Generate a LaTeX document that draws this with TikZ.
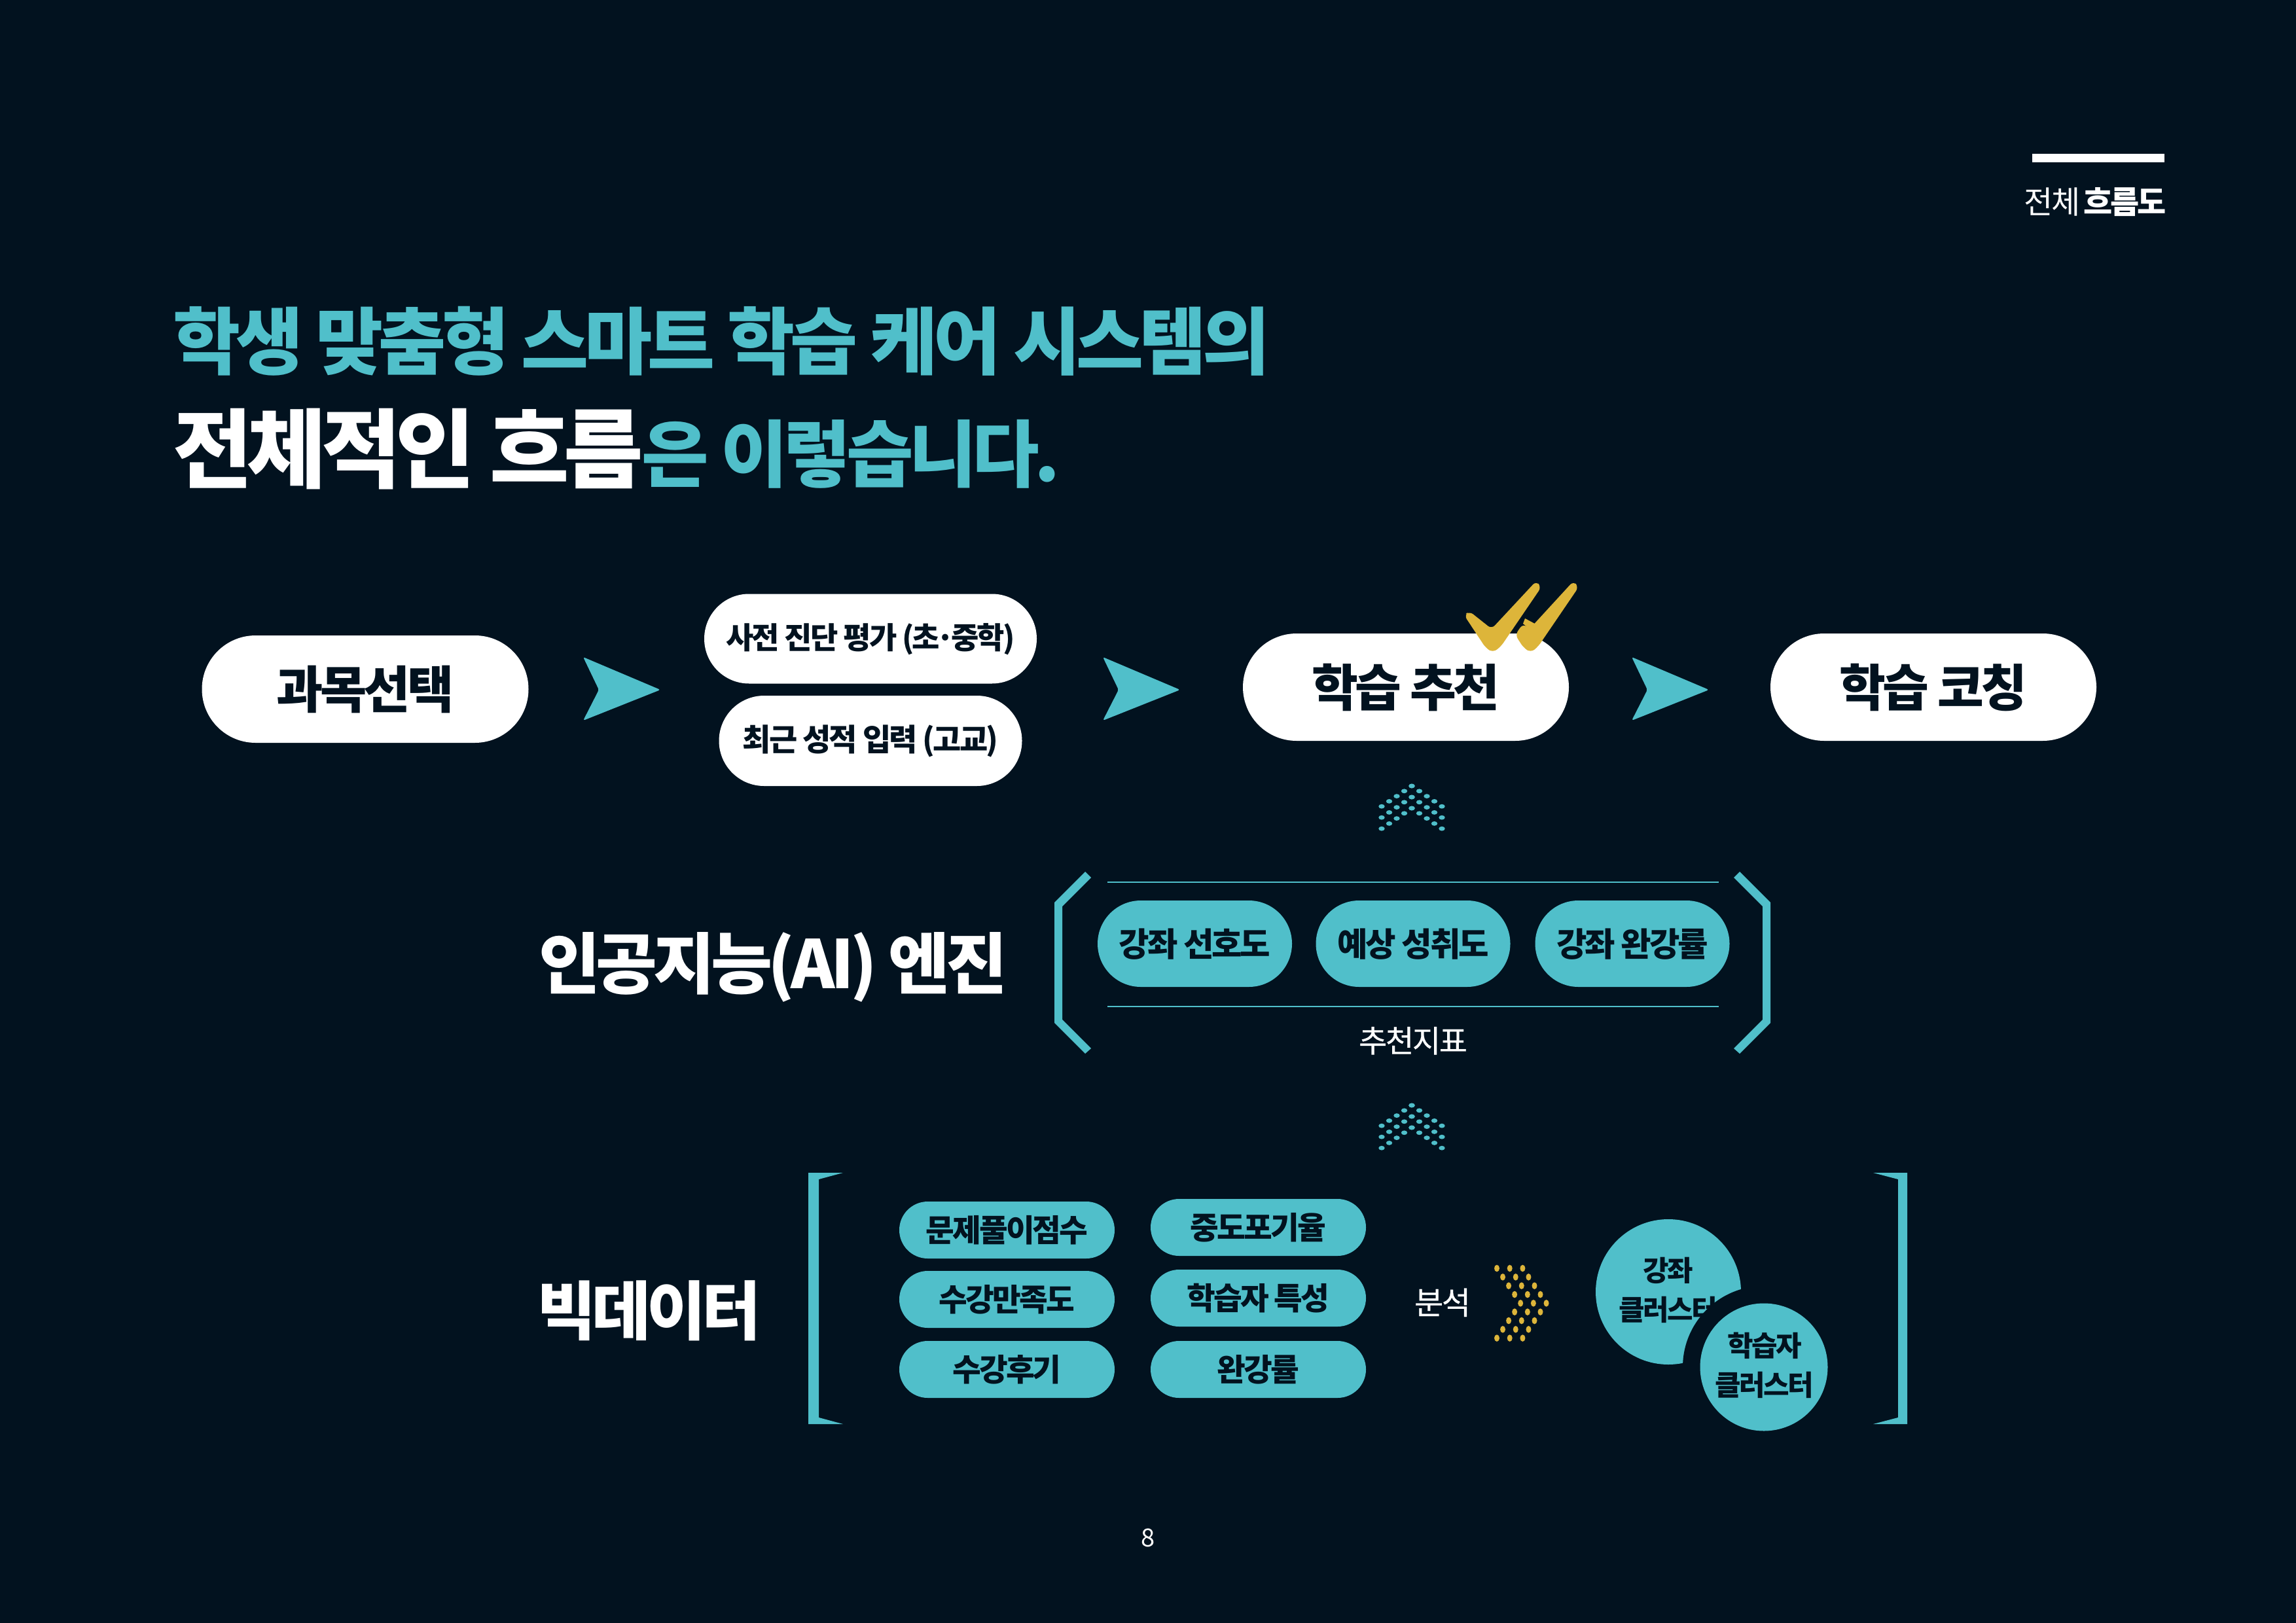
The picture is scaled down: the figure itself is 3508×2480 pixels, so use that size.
\documentclass[tikz,border=0pt]{standalone}
\usepackage{fontspec}
\setmainfont{Noto Sans CJK KR}[LetterSpace=-6]
\newfontfamily\medfont{Noto Sans CJK KR}[LetterSpace=-5,FakeBold=0.4]
\usetikzlibrary{shapes.misc}
\definecolor{bgc}{HTML}{02121F}
\definecolor{teal}{HTML}{50BFCA}
\definecolor{gold}{HTML}{DDB53A}
\newcommand{\Tx}[2]{{\fontsize{#1pt}{#1pt}\selectfont\rule[-.12em]{0pt}{1em}#2}}
\tikzset{
  lbl/.style={inner sep=0pt,outer sep=0pt},
  whitepill/.style={rounded rectangle,fill=white,text=bgc,inner sep=0pt,font=\bfseries},
  tealpill/.style={rounded rectangle,fill=teal,text=bgc,inner sep=0pt,font=\bfseries},
  bigarrow/.pic={\fill[teal,rounded corners=3pt] (0,-50)--(118,0)--(0,47)--(24,0)--cycle;},
}
\begin{document}
\begin{tikzpicture}[x=1pt,y=-1pt]
\useasboundingbox (0,0) rectangle (3508,2480);
\fill[bgc] (0,0) rectangle (3508,2480);
% header
\fill[white] (3105,235) rectangle (3307,248);
\node[lbl,anchor=east,text=white] (hdr) at (3307,308) {\Tx{48}{전체 \textbf{흐름도}}};
% titles
\node[lbl,anchor=west,text=teal,font=\bfseries] (t1) at (264,521) {\Tx{112}{학생 맞춤형 스마트 학습 케어 시스템의}};
\node[lbl,anchor=base west,text=white,font=\bfseries] (t2) at (264,735) {\Tx{132}{전체적인 흐름}};
\node[lbl,anchor=base west,text=teal,font=\bfseries] (t3) at (980,735) {\Tx{111.5}{은 이렇습니다.}};
% top row
\node[whitepill,minimum width=499,minimum height=164] (a) at (558,1053) {\Tx{77.5}{과목선택}};
\node[whitepill,minimum width=508,minimum height=137] (b1) at (1330,976) {\Tx{46}{사전 진단 평가 (초\kern-.12em·\kern-.12em중학)}};
\node[whitepill,minimum width=463,minimum height=138] (b2) at (1330,1132) {\Tx{47}{최근 성적 입력 (고교)}};
\node[whitepill,minimum width=498,minimum height=164] (c) at (2148,1050) {\Tx{77}{학습 추천}};
\node[whitepill,minimum width=498,minimum height=164] (d) at (2954,1050) {\Tx{77}{학습 코칭}};
\pic at (891,1054) {bigarrow};
\pic at (1685,1054) {bigarrow};
\pic at (2493,1054) {bigarrow};
% checks
\fill[gold,rounded corners=7pt] (2237,940)--(2245,934)--(2279,961)--(2347,888)--(2355,897)--(2293,988)--(2281,997)--(2270,990)--cycle;
\fill[gold,rounded corners=7pt] (2327,953)--(2337,961)--(2404,888)--(2412,897)--(2350,988)--(2339,997)--(2328,990)--(2315,970)--cycle;
\fill[gold] (2327,953)--(2337,961)--(2345,953)--(2330,945)--cycle;
% dotted chevrons
\foreach \cy in {1201,1689}{
 \foreach \k in {0,1,2}{
  \foreach \i in {0,...,4}{
   \fill[teal] ({2157-11.5*\i},{\cy+17*\k+7.8*\i}) ellipse [x radius=4.7pt,y radius=3.4pt];
   \fill[teal] ({2157+11.5*\i},{\cy+17*\k+7.8*\i}) ellipse [x radius=4.7pt,y radius=3.4pt];
  }}}
\foreach \k in {0,1,2}{
 \foreach \i in {0,...,8}{
   \pgfmathsetmacro{\ox}{9.04*(4-abs(\i-4))}
   \fill[gold] ({2287+19.7*\k+\ox},{1938+13.33*\i}) ellipse [x radius=4pt,y radius=5.3pt];
 }}
% AI row
\node[lbl,anchor=west,text=white,font=\bfseries] (ai) at (823,1476) {\Tx{102}{인공지능(AI) 엔진}};
\fill[teal] (1658,1332)--(1611,1379)--(1611,1563)--(1658,1610)--(1667,1602)--(1623,1558)--(1623,1385)--(1667,1341)--cycle;
\fill[teal] (2658,1332)--(2705,1379)--(2705,1563)--(2658,1610)--(2649,1602)--(2693,1558)--(2693,1385)--(2649,1341)--cycle;
\draw[teal,line width=2.5pt] (1692,1348)--(2626,1348);
\draw[teal,line width=2.5pt] (1692,1538)--(2626,1538);
\node[tealpill,minimum width=297,minimum height=132] (p1) at (1825.5,1442) {\Tx{50.5}{강좌 선호도}};
\node[tealpill,minimum width=297,minimum height=132] (p2) at (2159,1442) {\Tx{50.5}{예상 성취도}};
\node[tealpill,minimum width=297,minimum height=132] (p3) at (2494,1442) {\Tx{50.5}{강좌 완강률}};
\node[lbl,text=white,font=\medfont] (rec) at (2159,1590) {\Tx{47}{추천지표}};
% big data row
\node[lbl,anchor=west,text=white,font=\bfseries] (bd) at (820,2002) {\Tx{98}{빅데이터}};
\fill[teal] (1235,1792)--(1288,1792)--(1251,1802)--(1251,2166)--(1288,2176)--(1235,2176)--cycle;
\fill[teal] (2914,1792)--(2862,1792)--(2900,1802)--(2900,2166)--(2862,2176)--(2914,2176)--cycle;
\node[tealpill,minimum width=329,minimum height=87] (q1) at (1538.5,1879.5) {\Tx{47.5}{문제풀이점수}};
\node[tealpill,minimum width=329,minimum height=87] (q2) at (1538.5,1985.5) {\Tx{47.5}{수강만족도}};
\node[tealpill,minimum width=329,minimum height=87] (q3) at (1538.5,2092.5) {\Tx{47.5}{수강후기}};
\node[tealpill,minimum width=329,minimum height=87] (r1) at (1922.5,1875.5) {\Tx{47.5}{중도포기율}};
\node[tealpill,minimum width=329,minimum height=87] (r2) at (1922.5,1983.5) {\Tx{47.5}{학습자 특성}};
\node[tealpill,minimum width=329,minimum height=87] (r3) at (1922.5,2092.5) {\Tx{47.5}{완강률}};
\node[lbl,text=white,font=\medfont] (an) at (2204,1990) {\Tx{48}{분석}};
% clusters
\node[circle,fill=teal,minimum size=222,inner sep=0pt] (c1) at (2549,1974) {};
\node[lbl,text=bgc,font=\bfseries] (c1a) at (2549,1941) {\Tx{43}{강좌}};
\node[lbl,text=bgc,font=\bfseries] (c1b) at (2549,2001) {\Tx{43}{클러스터}};
\fill[bgc] (2695,2089) circle (124pt);
\node[circle,fill=teal,minimum size=195,inner sep=0pt] (c2) at (2695,2089) {};
\node[lbl,text=bgc,font=\bfseries] (c2a) at (2696,2056) {\Tx{43}{학습자}};
\node[lbl,text=bgc,font=\bfseries] (c2b) at (2696,2116) {\Tx{43}{클러스터}};
\node[lbl,text=white] (pg) at (1754,2349) {\Tx{38}{8}};
\end{tikzpicture}
\end{document}
